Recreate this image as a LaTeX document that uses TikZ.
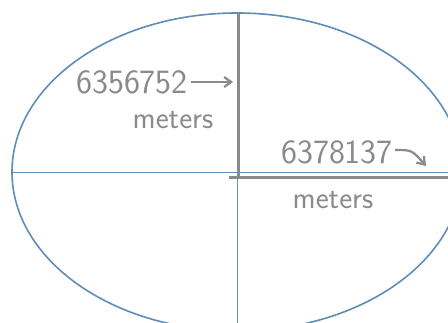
\documentclass[tikz,border=0pt]{standalone}
\usepackage{xcolor}
\definecolor{elblue}{HTML}{5E8DB8}
\definecolor{elgray}{HTML}{8A8A8A}
\usepackage{tikz}
\usetikzlibrary{arrows.meta}
\tikzset{
  elaxis/.style  ={draw=elblue, line width=0.6pt},
  elrim/.style   ={draw=elblue, line width=1.6pt},
  elradius/.style={draw=elgray, line width=3pt},
  elnum/.style   ={font=\sffamily\fontsize{34}{38}\selectfont, text=elgray, inner sep=0pt},
  elunit/.style  ={font=\sffamily\fontsize{31}{34}\selectfont, text=elgray, inner sep=0pt},
  elarrow/.style ={-{Straight Barb[length=7pt,width=10pt]}, draw=elgray, line width=2.2pt},
}
\begin{document}
\begin{tikzpicture}[x=1pt, y=1pt]
  \useasboundingbox (0,0) rectangle (448,323);
  \clip (0,0) rectangle (448,323);
  % centre and ends of the half axes
  \coordinate (O) at (237,151);
  \coordinate (W) at (12,151);
  \coordinate (E) at (448,151);
  \coordinate (S) at (237,0);
  \coordinate (N) at (238,310);
  \coordinate (C) at (238,145);
  \coordinate (Cw) at (229,145);
  \coordinate (Ce) at (448,145);
  % ellipse and axes
  \draw[elrim] (O) ellipse [x radius=225, y radius=159];
  \draw[elaxis] (W) -- (E);
  \draw[elaxis] (O) -- (S);
  % the two radii
  \draw[elradius] (N) -- (C);
  \draw[elradius] (Cw) -- (Ce);
  % labels
  \node[elnum]  (polar) at (132,241) {6356752};
  \node[elunit] (polarunit) at (173,203) {meters};
  \node[elnum]  (equat) at (337,171) {6378137};
  \node[elunit] (equatunit) at (333,123) {meters};
  \coordinate (polartip) at (233,241);
  \coordinate (equattip) at (426,157);
  \draw[elarrow] (polar.east) ++(3pt,0) -- (polartip);
  \draw[elarrow] (equat.east) ++(2pt,2pt) .. controls (412,173) .. (equattip);
\end{tikzpicture}
\end{document}
